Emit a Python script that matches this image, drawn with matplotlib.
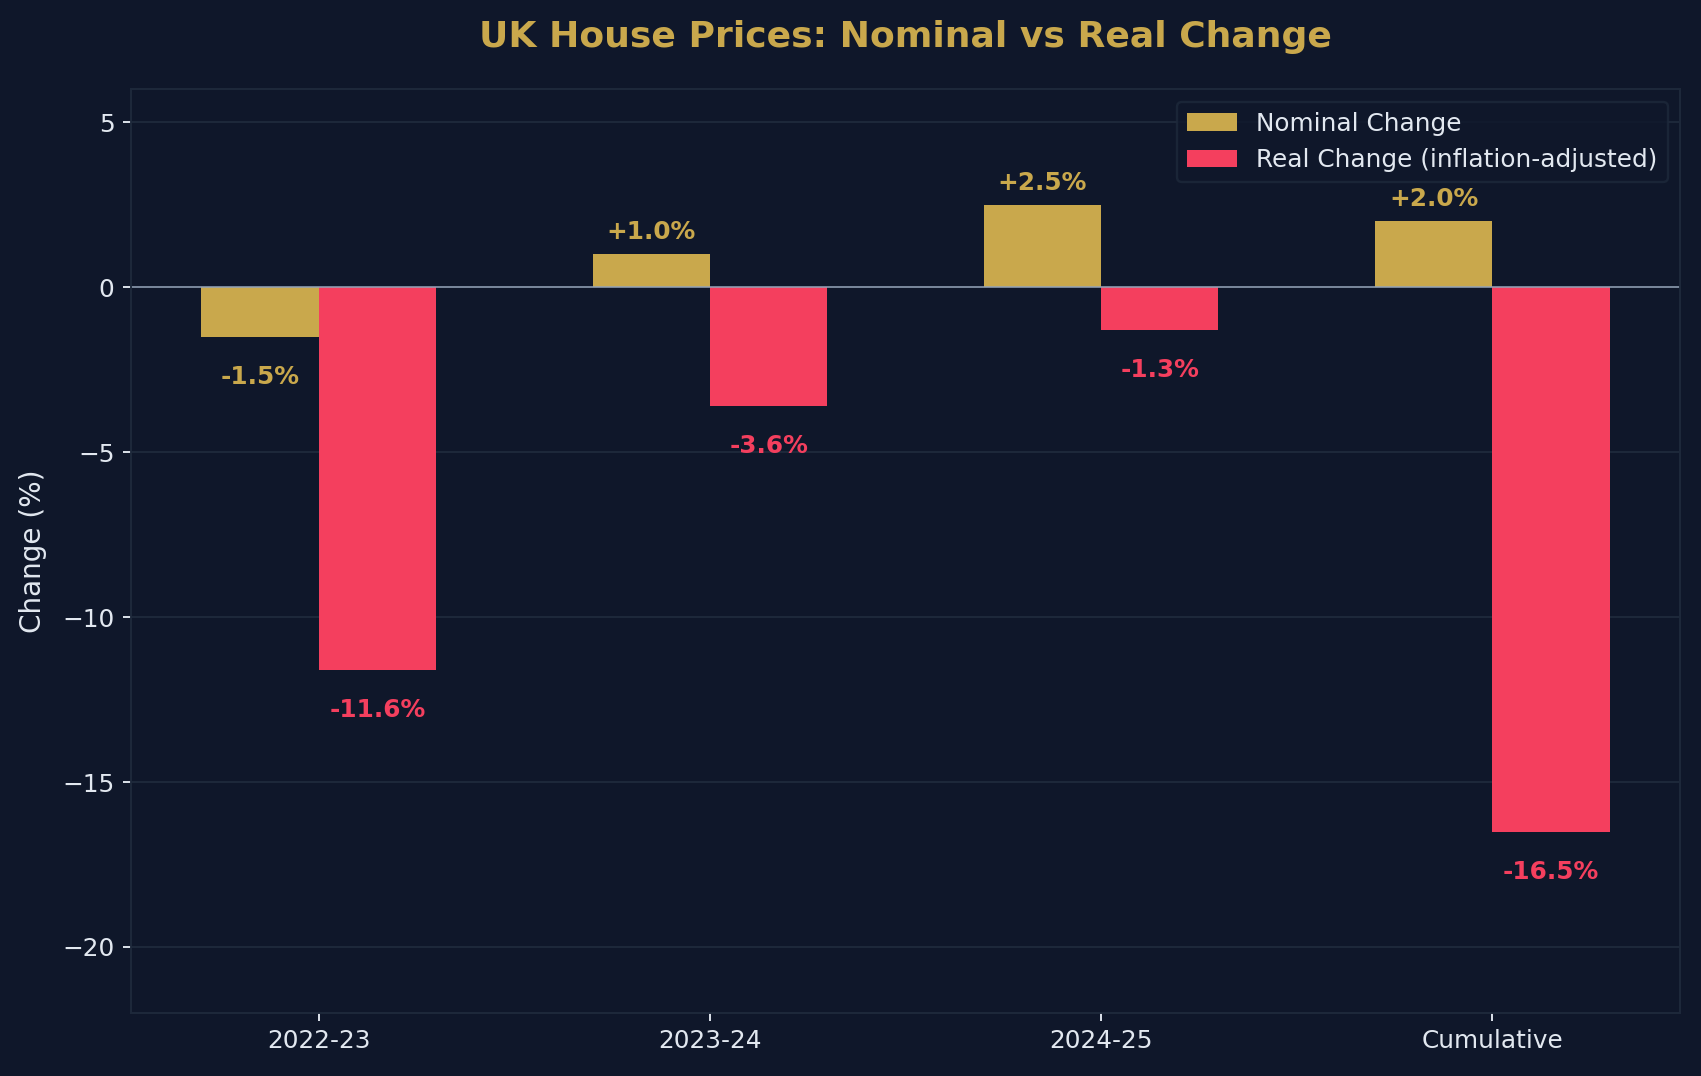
import numpy as np
import matplotlib.pyplot as plt

# Data
periods = ['2022-23', '2023-24', '2024-25', 'Cumulative']
nominal = [-1.5, 1.0, 2.5, 2.0]
real = [-11.6, -3.6, -1.3, -16.5]

bg = '#0f172a'
gold = '#c9a84c'
red = '#f43f5e'
txt = '#e2e8f0'
edge = '#1e293b'

fig, ax = plt.subplots(figsize=(1701 / 170, 1076 / 170), dpi=170)
fig.patch.set_facecolor(bg)
ax.set_facecolor(bg)

x = np.arange(len(periods))
w = 0.3
b1 = ax.bar(x - w / 2, nominal, w, color=gold, label='Nominal Change')
b2 = ax.bar(x + w / 2, real, w, color=red, label='Real Change (inflation-adjusted)')

# value labels
for bars, vals, c in [(b1, nominal, gold), (b2, real, red)]:
    for bar, v in zip(bars, vals):
        xc = bar.get_x() + bar.get_width() / 2
        if v >= 0:
            ax.text(xc, v + 0.3, f'+{v:.1f}%', ha='center', va='bottom',
                    color=c, fontsize=10.5, fontweight='bold')
        else:
            ax.text(xc, v - 0.85, f'{v:.1f}%', ha='center', va='top',
                    color=c, fontsize=10.5, fontweight='bold')

ax.axhline(0, color='#94a3b8', linewidth=0.8, alpha=0.8)
ax.set_ylim(-22, 6)
ax.set_xticks(x)
ax.set_xticklabels(periods)
ax.set_ylabel('Change (%)', color=txt, fontsize=11.8, labelpad=6.5)
ax.set_title('UK House Prices: Nominal vs Real Change', color=gold,
             fontsize=15.3, fontweight='bold', pad=18)
ax.tick_params(colors=txt, labelsize=10.5)
ax.yaxis.grid(True, color=edge, linewidth=0.8)
ax.set_axisbelow(True)
for s in ax.spines.values():
    s.set_color(edge)

leg = ax.legend(loc='upper right', facecolor=bg, edgecolor=edge, fontsize=10.5)
for t in leg.get_texts():
    t.set_color(txt)

plt.subplots_adjust(left=0.077, right=0.9877, top=0.917, bottom=0.0586)
plt.savefig('out.png', dpi=170, facecolor=bg)
